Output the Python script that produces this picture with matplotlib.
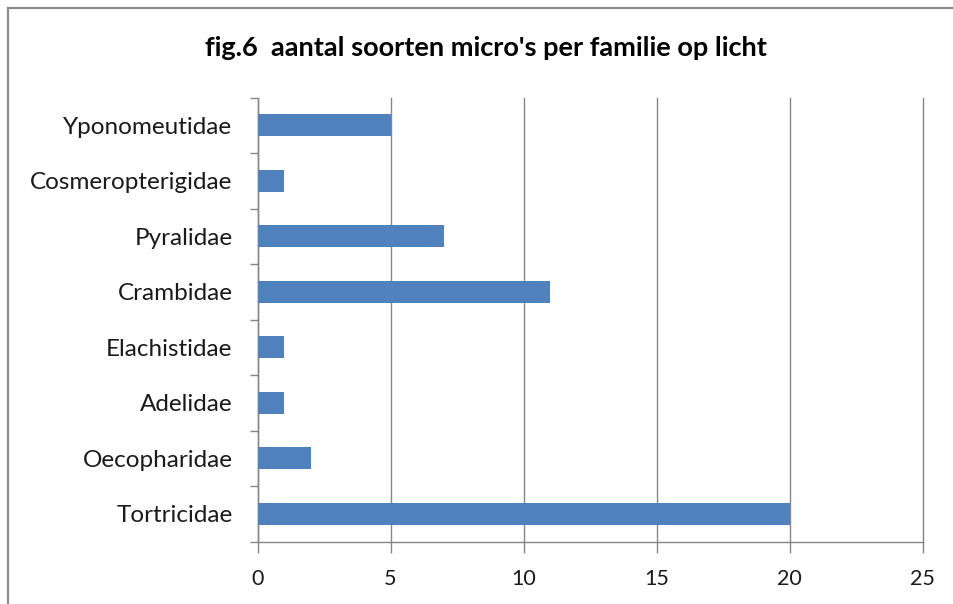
import matplotlib
matplotlib.use("Agg")
import matplotlib.pyplot as plt
from matplotlib.patches import Rectangle

categories = ["Tortricidae", "Oecopharidae", "Adelidae", "Elachistidae",
              "Crambidae", "Pyralidae", "Cosmeropterigidae", "Yponomeutidae"]
values = [20, 2, 1, 1, 11, 7, 1, 5]
x_ticks = [0, 5, 10, 15, 20, 25]
title = "fig.6  aantal soorten micro's per familie op licht"

plt.rcParams['font.family'] = ['Lato', 'DejaVu Sans']

W, H = 954, 604
fig = plt.figure(figsize=(W / 100, H / 100), dpi=100)
fig.patch.set_facecolor("white")

# outer chart frame
fig.patches.append(Rectangle((8 / W, -0.1), 1.2, (H - 8) / H + 0.1,
                             transform=fig.transFigure, fill=False,
                             edgecolor="#8c8c8c", linewidth=1.6))

left, right, top, bottom = 257.5, 922.5, 97.5, 541.5
ax = fig.add_axes([left / W, 1 - bottom / H, (right - left) / W, (bottom - top) / H])

y = list(range(len(categories)))
ax.barh(y, values, height=0.4, color="#4F81BD", zorder=3)
ax.set_xlim(0, 25)
ax.set_ylim(-0.5, len(categories) - 0.5)
ax.set_xticks(x_ticks)
ax.set_xticklabels([str(t) for t in x_ticks])
ax.set_yticks(y)
ax.set_yticklabels(categories)
ax.set_yticks([i - 0.5 for i in range(len(categories) + 1)], minor=True)

for s in ["top", "right"]:
    ax.spines[s].set_visible(False)
for s in ["left", "bottom"]:
    ax.spines[s].set_color("#868686")
    ax.spines[s].set_linewidth(1.0)

ax.grid(axis="x", color="#868686", linewidth=1.0, zorder=0)
for gl in ax.get_xgridlines():
    gl.set_clip_on(False)
ax.tick_params(axis="y", which="major", length=0, pad=18, labelsize=17.5, labelcolor="#1a1a1a")
ax.tick_params(axis="y", which="minor", length=6, color="#868686", width=1.0)
ax.tick_params(axis="x", which="major", length=8, color="#868686", width=1.0,
               labelsize=15.5, labelcolor="#1a1a1a", pad=12)

fig.text(486 / W, 1 - 48 / H, title, ha="center", va="center",
         fontsize=19.5, fontweight="bold", color="#000000")

fig.savefig("out.png", dpi=100)
